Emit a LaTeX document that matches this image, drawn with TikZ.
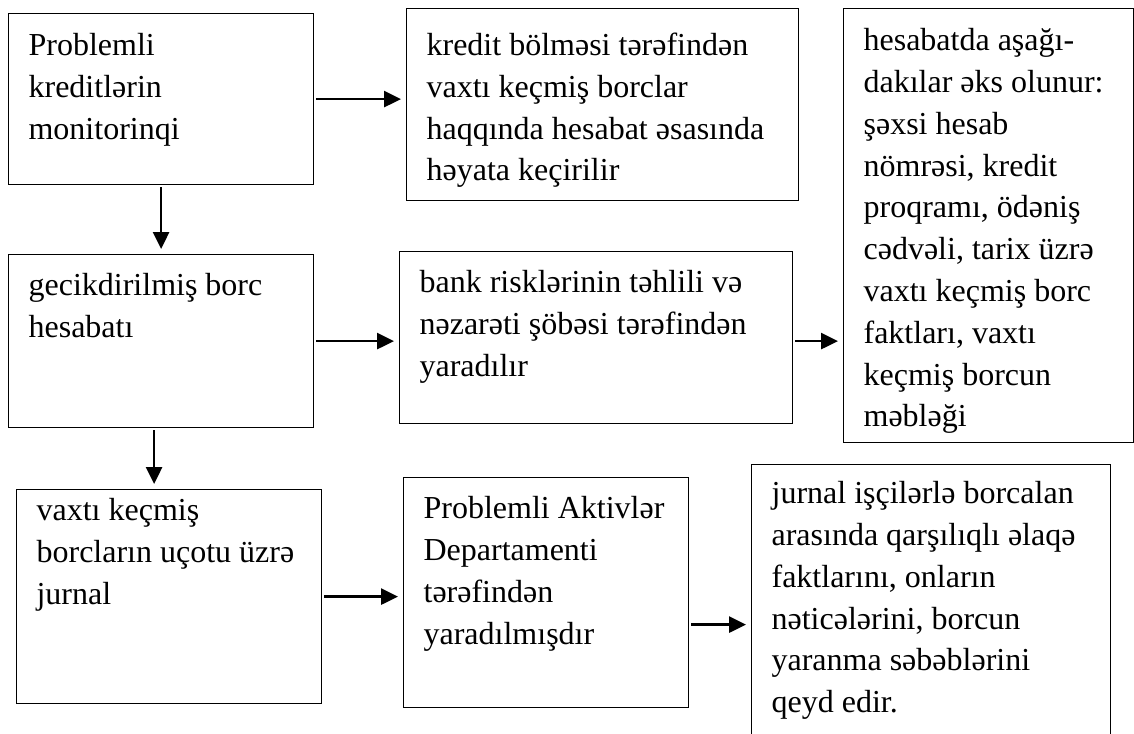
\documentclass[tikz,border=0pt]{standalone}
\usepackage{fontspec}
\setmainfont{Liberation Serif}
\usetikzlibrary{arrows.meta}
% box text: width, height, first baseline, lines
\newcommand{\bxtext}[4]{\parbox[c][#2pt][t]{#1pt}{\raggedright\leftskip=20pt\rule{0pt}{#3pt}#4}}
\tikzset{
  box/.style={draw, line width=1.2pt, inner sep=0pt, anchor=north west, font=\fontsize{32}{41.8}\selectfont},
  arr/.style={line width=2.7pt, -{Triangle[length=17pt,width=16pt]}, shorten <=2pt, shorten >=5pt}
}
\begin{document}
\begin{tikzpicture}[x=1pt,y=-1pt]
  \useasboundingbox (0,0) rectangle (1134,733);
  \node[box] (mon) at (8,13) {\bxtext{305}{171}{42}{Problemli\\kreditlərin\\monitorinqi}};
  \node[box] (kred) at (406,8) {\bxtext{392}{192}{47}{kredit bölməsi tərəfindən\\vaxtı keçmiş borclar\\haqqında hesabat əsasında\\həyata keçirilir}};
  \node[box] (hes) at (843,8) {\bxtext{290}{434}{42}{hesabatda aşağı-\\dakılar əks olunur:\\şəxsi hesab\\nömrəsi, kredit\\proqramı, ödəniş\\cədvəli, tarix üzrə\\vaxtı keçmiş borc\\faktları, vaxtı\\keçmiş borcun\\məbləği}};
  \node[box] (gec) at (8,254) {\bxtext{305}{173}{41}{gecikdirilmiş borc\\hesabatı}};
  \node[box] (risk) at (399,251) {\bxtext{393}{172}{41}{bank risklərinin təhlili və\\nəzarəti şöbəsi tərəfindən\\yaradılır}};
  \node[box] (jur) at (16,489) {\bxtext{305}{214}{31}{vaxtı keçmiş\\borcların uçotu üzrə\\jurnal}};
  \node[box] (akt) at (403,477) {\bxtext{285}{230}{41}{Problemli Aktivlər\\Departamenti\\tərəfindən\\yaradılmışdır}};
  \node[box] (jrn) at (751,464) {\bxtext{359}{296}{39}{jurnal işçilərlə borcalan\\arasında qarşılıqlı əlaqə\\faktlarını, onların\\nəticələrini, borcun\\yaranma səbəblərini\\qeyd edir.}};

  \draw[arr] (mon.east) -- (mon.east -| kred.west);
  \draw[arr] (mon.south) -- (mon.south |- gec.north);
  \draw[arr] (gec.east) -- (gec.east -| risk.west);
  \draw[arr] (risk.east |- gec.east) -- (gec.east -| hes.west);
  \draw[arr] ([xshift=-7pt]gec.south) -- ([xshift=-7pt]gec.south |- jur.north);
  \draw[arr] (jur.east) -- (jur.east -| akt.west);
  \draw[arr] ([yshift=-32pt]akt.east) -- ([yshift=-32pt]akt.east -| jrn.west);
\end{tikzpicture}
\end{document}
